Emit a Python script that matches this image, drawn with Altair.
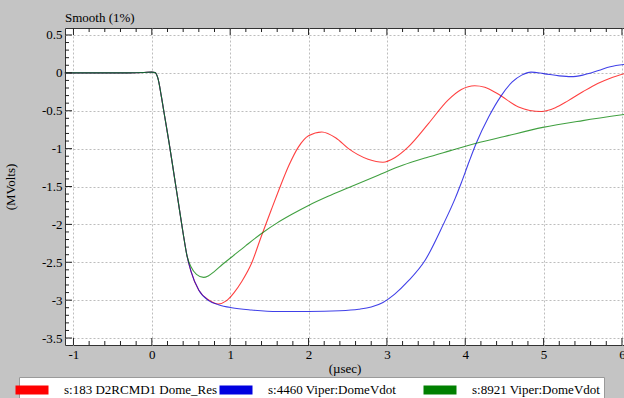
import altair as alt
import pandas as pd

# ---- data ----
series_names = ["s:183 D2RCMD1 Dome_Res", "s:4460 Viper:DomeVdot", "s:8921 Viper:DomeVdot"]
series_colors = ["#ff0000", "#0000e0", "#008000"]

# common pre-pulse / drop segment (all three traces overlap)
common_x = [-1.11, -0.7, -0.3, -0.1, 0.0, 0.04, 0.08, 0.12, 0.16, 0.22, 0.28, 0.34, 0.40, 0.45]
common_y = [0.0, 0.0, 0.0, 0.005, 0.01, 0.005, -0.08, -0.3, -0.55, -0.92, -1.32, -1.72, -2.12, -2.42]

red_x = [0.50, 0.60, 0.73, 0.85, 0.95, 1.05, 1.15, 1.27, 1.40, 1.52, 1.62, 1.75, 1.87, 2.00, 2.17,
         2.35, 2.51, 2.76, 2.95, 3.10, 3.27, 3.53, 3.78, 3.95, 4.12, 4.25, 4.42, 4.68, 4.97,
         5.15, 5.31, 5.50, 5.69, 5.85, 6.03]
red_y = [-2.62, -2.87, -3.00, -3.05, -3.01, -2.90, -2.75, -2.52, -2.15, -1.82, -1.55, -1.22, -0.98,
         -0.83, -0.78, -0.86, -1.00, -1.14, -1.18, -1.12, -0.98, -0.67, -0.36, -0.22, -0.17,
         -0.19, -0.28, -0.45, -0.51, -0.46, -0.37, -0.25, -0.14, -0.07, -0.01]

blue_x = [0.50, 0.60, 0.73, 0.85, 1.02, 1.27, 1.60, 2.00, 2.40, 2.64, 2.80, 2.95, 3.10, 3.27, 3.49,
          3.72, 3.87, 3.95, 4.05, 4.14, 4.30, 4.46, 4.60, 4.72, 4.84, 5.00, 5.20, 5.35, 5.50,
          5.70, 5.85, 6.03]
blue_y = [-2.62, -2.87, -3.01, -3.06, -3.10, -3.13, -3.15, -3.15, -3.14, -3.12, -3.09, -3.03, -2.92,
          -2.75, -2.47, -2.00, -1.66, -1.45, -1.17, -0.93, -0.58, -0.30, -0.12, -0.03, 0.01,
          -0.01, -0.04, -0.05, -0.03, 0.03, 0.08, 0.11]

green_x = [0.50, 0.57, 0.66, 0.72, 0.80, 0.90, 1.02, 1.20, 1.40, 1.60, 1.80, 2.00, 2.25, 2.50,
           2.89, 3.20, 3.50, 3.80, 4.14, 4.50, 4.99, 5.50, 6.03]
green_y = [-2.56, -2.66, -2.70, -2.68, -2.62, -2.53, -2.43, -2.28, -2.12, -1.98, -1.86, -1.75,
           -1.63, -1.52, -1.35, -1.22, -1.12, -1.03, -0.93, -0.84, -0.72, -0.63, -0.55]

x_major = [-1, 0, 1, 2, 3, 4, 5, 6]
x_minor = [round(-1.0 + 0.2 * i, 2) for i in range(36) if i % 5 != 0]
y_major = [0.5, 0, -0.5, -1, -1.5, -2, -2.5, -3, -3.5]
y_minor = [round(0.5 - 0.1 * i, 2) for i in range(41) if i % 5 != 0]

X_DOMAIN = [-1.108, 6.026]
Y_DOMAIN = [-3.592, 0.592]

W, H = 559, 317
MAJOR, MINOR = 7, 4  # tick lengths in pixels
XU = (X_DOMAIN[1] - X_DOMAIN[0]) / W  # data units per pixel
YU = (Y_DOMAIN[1] - Y_DOMAIN[0]) / H

rows = []
for name, xs_, ys_ in zip(series_names, [red_x, blue_x, green_x], [red_y, blue_y, green_y]):
    for xv, yv in zip(common_x + xs_, common_y + ys_):
        rows.append({"series": name, "t": xv, "v": yv})
df = pd.DataFrame(rows)

FONT = "Liberation Serif"

xs = alt.Scale(domain=X_DOMAIN, nice=False, zero=False)
ys = alt.Scale(domain=Y_DOMAIN, nice=False, zero=False)
LBL = "toString(datum.value)"

X_AXIS = alt.Axis(orient="bottom", values=x_major, title="(µsec)", ticks=False,
                  labelPadding=3, titlePadding=1, grid=True, gridDash=[2, 2],
                  gridColor="#bdbdbd", domain=False, labelFlush=False,
                  labelOverlap=False, labelExpr=LBL)
Y_AXIS = alt.Axis(orient="left", values=y_major, title="(MVolts)", ticks=False,
                  labelPadding=3, grid=True, gridDash=[2, 2], gridColor="#bdbdbd",
                  domain=False, titleX=-48, labelFlush=False, labelOverlap=False,
                  labelExpr=LBL)

lines = alt.Chart(df).mark_line(strokeWidth=1.1, opacity=0.75, interpolate="monotone").encode(
    x=alt.X("t:Q", scale=xs, axis=X_AXIS),
    y=alt.Y("v:Q", scale=ys, axis=Y_AXIS),
    color=alt.Color("series:N",
                    scale=alt.Scale(domain=series_names, range=series_colors),
                    legend=alt.Legend(title=None, orient="none", legendX=-46, legendY=349,
                                      direction="horizontal", columns=3, gridAlign="all",
                                      symbolType="M-3,0H3", symbolSize=121,
                                      symbolStrokeWidth=9, symbolOpacity=1,
                                      labelFont=FONT, labelFontSize=13, labelColor="#000",
                                      labelLimit=220, columnPadding=-17, labelOffset=22,
                                      fillColor="#ffffff", strokeColor="#9a9a9a",
                                      padding=3, offset=0)),
    detail="series:N",
)

tick_col = "#222222"
xmaj_df = pd.DataFrame({"t": x_major})
xmin_df = pd.DataFrame({"t": x_minor})
ymaj_df = pd.DataFrame({"v": y_major})
ymin_df = pd.DataFrame({"v": y_minor})


def xticks(d, length, top):
    if top:
        a, b = Y_DOMAIN[1], Y_DOMAIN[1] - length * YU
    else:
        a, b = Y_DOMAIN[0], Y_DOMAIN[0] + length * YU
    return alt.Chart(d).transform_calculate(a=f"{a}", b=f"{b}").mark_rule(
        color=tick_col, strokeWidth=1, clip=True).encode(
        x=alt.X("t:Q", scale=xs, axis=X_AXIS),
        y=alt.Y("a:Q", scale=ys, axis=Y_AXIS),
        y2="b:Q")


def yticks(d, length):
    a, b = X_DOMAIN[0], X_DOMAIN[0] + length * XU
    return alt.Chart(d).transform_calculate(a=f"{a}", b=f"{b}").mark_rule(
        color=tick_col, strokeWidth=1, clip=True).encode(
        y=alt.Y("v:Q", scale=ys, axis=Y_AXIS),
        x=alt.X("a:Q", scale=xs, axis=X_AXIS),
        x2="b:Q")


chart = alt.layer(
    lines,
    xticks(xmaj_df, MAJOR, False),
    xticks(xmin_df, MINOR, False),
    xticks(xmaj_df, MAJOR, True),
    xticks(xmin_df, MINOR, True),
    yticks(ymaj_df, MAJOR),
    yticks(ymin_df, MINOR),
).properties(
    width=W, height=H,
    padding={"left": 65, "top": 28, "right": 0, "bottom": 53},
    autosize=alt.AutoSizeParams(type="none"),
    background="#c4c4c4",
    title=alt.TitleParams("Smooth (1%)", anchor="start", frame="group", font=FONT,
                          fontSize=13, fontWeight="normal", color="#000", offset=3, dx=0),
).configure(font=FONT).configure_view(
    fill="#ffffff", stroke="#333333", strokeWidth=1
).configure_axis(
    labelFont=FONT, labelFontSize=13, labelColor="#000", titleFont=FONT, titleFontSize=13,
    titleFontWeight="normal", titleColor="#000"
)

chart.save("out.html", embed_options={"renderer": "svg", "actions": False})
